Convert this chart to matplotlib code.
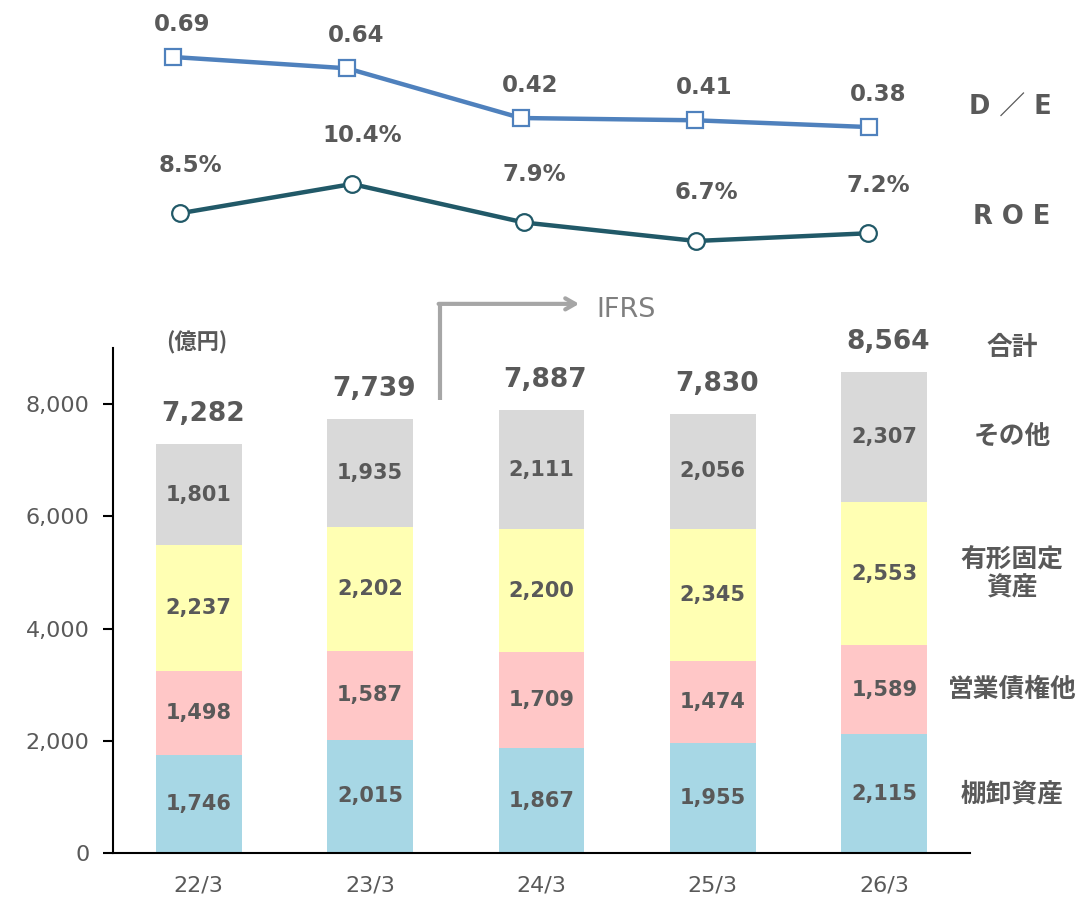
import numpy as np
import matplotlib
matplotlib.use("Agg")
import matplotlib.pyplot as plt
from matplotlib.ticker import FuncFormatter

plt.rcParams['font.family'] = ['DejaVu Sans', 'Noto Sans CJK JP']

years = ["22/3", "23/3", "24/3", "25/3", "26/3"]
inventory = [1746, 2015, 1867, 1955, 2115]
receivables = [1498, 1587, 1709, 1474, 1589]
fixed_assets = [2237, 2202, 2200, 2345, 2553]
others = [1801, 1935, 2111, 2056, 2307]
totals = [7282, 7739, 7887, 7830, 8564]
de_ratio = [0.69, 0.64, 0.42, 0.41, 0.38]
roe = [8.5, 10.4, 7.9, 6.7, 7.2]

seg_names = ["棚卸資産", "営業債権他", "有形固定\n資産", "その他"]
seg_colors = ["#A7D7E5", "#FFC7C7", "#FFFFB3", "#D9D9D9"]
txt_gray = "#595959"
cjk = ['Noto Sans CJK JP', 'DejaVu Sans']

fig = plt.figure(figsize=(10.8, 8.98), dpi=100)

# ---- bars
ax = fig.add_axes([0.1046, 0.0501, 0.7935, 0.5624])
x = np.arange(len(years))
bottom = np.zeros(len(years))
for vals, col in zip([inventory, receivables, fixed_assets, others], seg_colors):
    vals = np.array(vals)
    ax.bar(x, vals, 0.5, bottom=bottom, color=col)
    for xi, b, v in zip(x, bottom, vals):
        ax.text(xi, b + v / 2, f"{v:,}", ha="center", va="center", fontsize=15,
                fontweight="bold", color=txt_gray)
    bottom = bottom + vals

for xi, t in zip(x, totals):
    ax.annotate(f"{t:,}", (xi, t), xytext=(4, 30), textcoords="offset pixels",
                ha="center", va="center", fontsize=19, fontweight="bold", color=txt_gray)

# category labels right of last bar
bottom = 0
for vals, name in zip([inventory, receivables, fixed_assets, others], seg_names):
    ax.text(4.745, bottom + vals[-1] / 2, name, ha="center", va="center", fontsize=18.5,
            fontweight="bold", color=txt_gray, clip_on=False, linespacing=1.05,
            family=cjk)
    bottom += vals[-1]
ax.text(4.745, 9000, "合計", ha="center", va="center", fontsize=18.5,
        fontweight="bold", color=txt_gray, clip_on=False, family=cjk)
ax.text(-0.01, 9100, "(億円)", ha="center", va="center", fontsize=16,
        fontweight="bold", color=txt_gray, clip_on=False, family=cjk)

ax.set_xlim(-0.5, 4.5)
ax.set_ylim(0, 9000)
ax.set_yticks([0, 2000, 4000, 6000, 8000])
ax.yaxis.set_major_formatter(FuncFormatter(lambda v, p: f"{int(v):,}"))
ax.set_xticks(x)
ax.set_xticklabels(years)
ax.tick_params(axis="y", length=7, width=1.5, colors="black", labelcolor=txt_gray,
               labelsize=16, pad=10)
ax.tick_params(axis="x", length=0, labelcolor=txt_gray, labelsize=16, pad=16)
for s in ["top", "right"]:
    ax.spines[s].set_visible(False)
for s in ["left", "bottom"]:
    ax.spines[s].set_linewidth(1.5)

# IFRS arrow
ax.plot([1.41, 1.41], [8075, 9786], color="#A6A6A6", lw=3, clip_on=False,
        solid_capstyle="butt")
ax.annotate("", xy=(2.22, 9786), xytext=(1.40, 9786),
            arrowprops=dict(arrowstyle="->,head_length=0.7,head_width=0.4",
                            color="#A6A6A6", lw=3, shrinkA=0, shrinkB=0),
            annotation_clip=False)
ax.text(2.32, 9680, "IFRS", ha="left", va="center", fontsize=19.5, color="#7F7F7F",
        clip_on=False)

# ---- D/E line
ax_de = fig.add_axes([86 / 1080, 1 - 280 / 898, 870 / 1080, 280 / 898])
ax_de.plot(x, de_ratio, color="#4F81BD", lw=3.2, marker="s", markersize=12,
           markerfacecolor="white", markeredgecolor="#4F81BD", markeredgewidth=1.6)
for xi, v in zip(x, de_ratio):
    ax_de.annotate(f"{v:.2f}", (xi, v), xytext=(9, 33), textcoords="offset pixels",
                   ha="center", va="center", fontsize=16.5, fontweight="bold", color=txt_gray)
ax_de.set_xlim(-0.5, 4.5)
ax_de.set_ylim(0.69 - 223 / 226, 0.69 + 57 / 226)
ax_de.axis("off")

# ---- ROE line
ax_roe = fig.add_axes([94 / 1080, 1 - 280 / 898, 860 / 1080, 280 / 898])
ax_roe.plot(x, roe, color="#215968", lw=3.2, marker="o", markersize=12,
            markerfacecolor="white", markeredgecolor="#215968", markeredgewidth=1.6)
for xi, v in zip(x, roe):
    ax_roe.annotate(f"{v:.1f}%", (xi, v), xytext=(10, 48), textcoords="offset pixels",
                    ha="center", va="center", fontsize=16.5, fontweight="bold", color=txt_gray)
ax_roe.set_xlim(-0.5, 4.5)
ax_roe.set_ylim(10.4 - 96 / 15.4, 10.4 + 184 / 15.4)
ax_roe.axis("off")

fig.text(1010 / 1080, 1 - 108 / 898, "D ／ E", ha="center", va="center", fontsize=18.5,
         fontweight="bold", color=txt_gray)
fig.text(1012 / 1080, 1 - 217 / 898, "R O E", ha="center", va="center", fontsize=18.5,
         fontweight="bold", color=txt_gray)

fig.savefig("out.png", dpi=100)
